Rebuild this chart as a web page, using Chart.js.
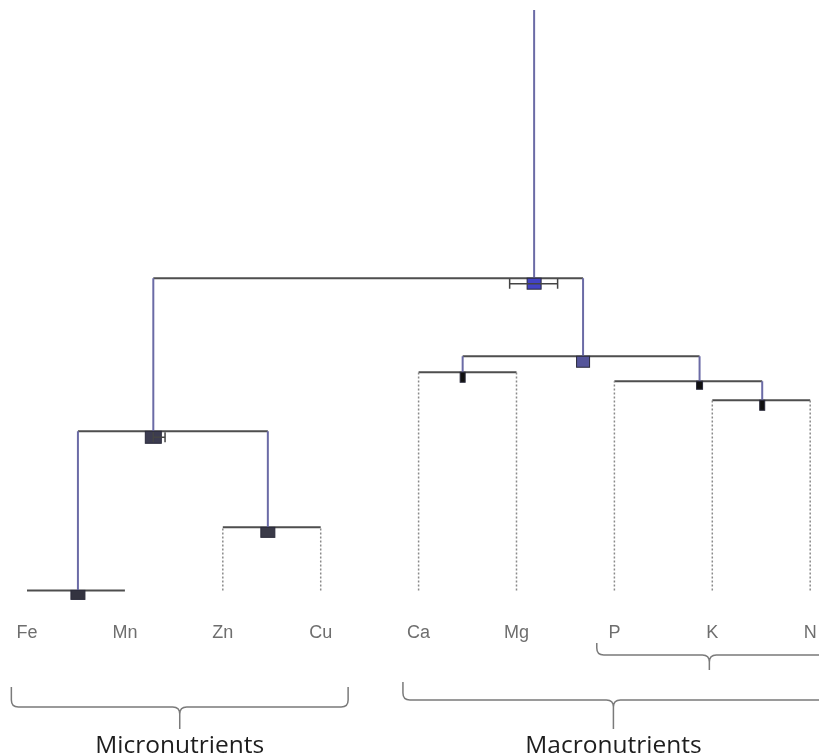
<!DOCTYPE html>
<html>
<head>
<meta charset="utf-8">
<script src="https://cdn.jsdelivr.net/npm/chart.js@4.4.1/dist/chart.umd.min.js"></script>
<style>
  html, body { margin: 0; padding: 0; background: #fff; }
  #wrap { width: 819px; height: 756px; }
</style>
</head>
<body>
<div id="wrap"><canvas id="tree" width="819" height="756"></canvas></div>
<script>
// ---------------------------------------------------------------------------
// Data — leaves and merges (children: 0..8 = leaves, 9+ = earlier merges)
// ---------------------------------------------------------------------------

const leaves = ["Fe", "Mn", "Zn", "Cu", "Ca", "Mg", "P", "K", "N"];

const mergeLeft   = [0, 2, 9, 4, 7, 6, 12, 11];
const mergeRight  = [1, 3, 10, 5, 8, 13, 14, 15];
const mergeHeight = [0.00, 0.63, 1.59, 2.18, 1.90, 2.09, 2.34, 3.12];
const mergeX      = [0.52, 2.46, 1.29, 4.45, 7.51, 6.87, 5.68, 5.18];

// node height uncertainty (lower end of the box under each node)
const heightLow   = [-0.09, 0.53, 1.47, 2.08, 1.80, 2.01, 2.23, 3.01];

// horizontal uncertainty on node position (only two nodes show it)
const errNodes = [2, 7];
const errLow   = [1.29, 4.93];
const errHigh  = [1.41, 5.42];

const rootTop = 5.80;

// brackets under the leaves
const groupNames = ["Micronutrients", "Macronutrients", ""];
const groupFrom  = [-0.16, 3.84, 5.82];
const groupTo    = [3.28, 8.30, 8.30];
const groupTip   = [1.56, 5.99, 6.97];

// ---------------------------------------------------------------------------
// Build line segments from the merge table
// ---------------------------------------------------------------------------

const nLeaf = leaves.length;
const childX = (c) => (c < nLeaf ? c : mergeX[c - nLeaf]);
const childH = (c) => (c < nLeaf ? 0 : mergeHeight[c - nLeaf]);

const horiz = [];
const verts = [];
const drops = [];
const gap = { x: null, y: null };

mergeHeight.forEach((h, i) => {
    const l = mergeLeft[i];
    const r = mergeRight[i];
    horiz.push({ x: childX(l), y: h }, { x: childX(r), y: h }, gap);
    [l, r].forEach((c) => {
        if (c < nLeaf) {
            if (h > 0) drops.push({ x: c, y: 0 }, { x: c, y: h }, gap);
        } else {
            verts.push({ x: childX(c), y: childH(c) }, { x: childX(c), y: h }, gap);
        }
    });
});
const root = mergeHeight.length - 1;
verts.push({ x: mergeX[root], y: mergeHeight[root] }, { x: mergeX[root], y: rootTop });

// ---------------------------------------------------------------------------
// Node markers, error bars and brackets
// ---------------------------------------------------------------------------

const markerStyle = [
    { w: 7, fill: "#333340" },
    { w: 7, fill: "#3a3a48" },
    { w: 8, fill: "#3c3c50" },
    { w: 2.5, fill: "#111111" },
    { w: 2.5, fill: "#111111" },
    { w: 3, fill: "#111111" },
    { w: 6.5, fill: "#55559a" },
    { w: 7, fill: "#4343c4" },
];

function drawBracket(ctx, x1, x2, xt, yLine, yTop, yTip) {
    const r = 7;
    ctx.beginPath();
    ctx.moveTo(x1, yTop);
    ctx.lineTo(x1, yLine - r);
    ctx.quadraticCurveTo(x1, yLine, x1 + r, yLine);
    ctx.lineTo(xt - r, yLine);
    ctx.quadraticCurveTo(xt, yLine, xt, yLine + r);
    ctx.lineTo(xt, yTip);
    ctx.moveTo(xt, yLine + r);
    ctx.quadraticCurveTo(xt, yLine, xt + r, yLine);
    ctx.lineTo(x2 - r, yLine);
    ctx.quadraticCurveTo(x2, yLine, x2, yLine - r);
    ctx.lineTo(x2, yTop);
    ctx.stroke();
}

const treeDecor = {
    id: "treeDecor",
    afterDatasetsDraw(chart) {
        const { ctx, scales: { x, y } } = chart;
        ctx.save();

        // node boxes
        mergeHeight.forEach((h, i) => {
            const s = markerStyle[i];
            const px = x.getPixelForValue(mergeX[i]);
            const top = y.getPixelForValue(h);
            const bot = y.getPixelForValue(heightLow[i]);
            ctx.fillStyle = s.fill;
            ctx.fillRect(px - s.w, top, s.w * 2, bot - top);
            ctx.strokeStyle = "#2a2a3a";
            ctx.lineWidth = 1;
            ctx.strokeRect(px - s.w, top, s.w * 2, bot - top);
        });

        // horizontal error bars
        ctx.strokeStyle = "#444";
        ctx.lineWidth = 1.5;
        errNodes.forEach((n, k) => {
            const yc = (y.getPixelForValue(mergeHeight[n]) + y.getPixelForValue(heightLow[n])) / 2;
            const a = x.getPixelForValue(errLow[k]);
            const b = x.getPixelForValue(errHigh[k]);
            ctx.beginPath();
            ctx.moveTo(a, yc); ctx.lineTo(b, yc);
            ctx.moveTo(a, yc - 5); ctx.lineTo(a, yc + 5);
            ctx.moveTo(b, yc - 5); ctx.lineTo(b, yc + 5);
            ctx.stroke();
        });

        // brackets
        ctx.strokeStyle = "#7a7a7a";
        ctx.lineWidth = 1.5;
        const rows = [
            { line: 707, top: 687, tip: 729 },
            { line: 700, top: 682, tip: 729 },
            { line: 655, top: 643, tip: 670 },
        ];
        groupFrom.forEach((f, i) => {
            drawBracket(ctx, x.getPixelForValue(f), x.getPixelForValue(groupTo[i]),
                x.getPixelForValue(groupTip[i]), rows[i].line, rows[i].top, rows[i].tip);
        });

        ctx.fillStyle = "#1e1e1e";
        ctx.font = "24.5px 'Open Sans'";
        ctx.textAlign = "center";
        ctx.textBaseline = "alphabetic";
        groupNames.forEach((g, i) => {
            if (g) ctx.fillText(g, x.getPixelForValue(groupTip[i]), 753);
        });
        ctx.restore();
    },
};

// ---------------------------------------------------------------------------
// Chart
// ---------------------------------------------------------------------------

new Chart(document.getElementById("tree"), {
    type: "scatter",
    data: {
        datasets: [
            { data: drops, showLine: true, borderColor: "#8a8a8a", borderWidth: 1.5, borderDash: [2, 2], pointRadius: 0 },
            { data: verts, showLine: true, borderColor: "#6b6ba6", borderWidth: 2, pointRadius: 0 },
            { data: horiz, showLine: true, borderColor: "#4e4e4e", borderWidth: 2, pointRadius: 0 },
        ],
    },
    options: {
        responsive: false,
        animation: false,
        spanGaps: false,
        layout: { padding: { left: 0, right: 0, top: 0, bottom: 90 } },
        plugins: { legend: { display: false }, tooltip: { enabled: false } },
        scales: {
            x: {
                type: "linear",
                min: -0.276,
                max: 8.09,
                afterBuildTicks: (scale) => { scale.ticks = leaves.map((_, i) => ({ value: i })); },
                afterFit: (scale) => { scale.paddingLeft = 0; scale.paddingRight = 0; },
                ticks: {
                    autoSkip: false,
                    maxRotation: 0,
                    padding: 22,
                    color: "#6e6e6e",
                    font: { family: "'Liberation Sans', Arial, sans-serif", size: 18 },
                    callback: (v) => leaves[v],
                },
                grid: { display: false, drawTicks: false },
                border: { display: false },
            },
            y: { display: false, min: -0.1, max: 5.9 },
        },
    },
    plugins: [treeDecor],
});
</script>
</body>
</html>
